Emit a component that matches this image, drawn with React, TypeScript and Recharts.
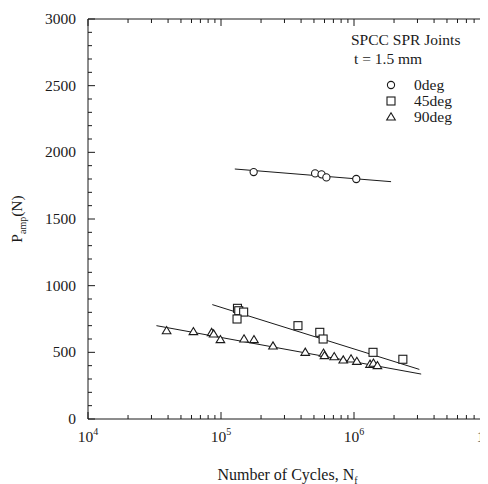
import React from 'react';
import { Scatter, ScatterChart, XAxis, YAxis } from 'recharts';

// S-N data (cycles, amplitude load in N)
const deg0 = [
  { n: 1.76e5, p: 1852 },
  { n: 5.1e5, p: 1842 },
  { n: 5.7e5, p: 1835 },
  { n: 6.2e5, p: 1812 },
  { n: 1.04e6, p: 1800 },
];
const deg45 = [
  { n: 1.33e5, p: 830 },
  { n: 1.36e5, p: 812 },
  { n: 1.48e5, p: 802 },
  { n: 1.32e5, p: 750 },
  { n: 3.79e5, p: 700 },
  { n: 5.53e5, p: 650 },
  { n: 5.86e5, p: 600 },
  { n: 1.39e6, p: 500 },
  { n: 2.33e6, p: 448 },
];
const deg90 = [
  { n: 3.9e4, p: 662 },
  { n: 6.2e4, p: 655 },
  { n: 8.5e4, p: 648 },
  { n: 8.8e4, p: 637 },
  { n: 9.9e4, p: 595 },
  { n: 1.49e5, p: 600 },
  { n: 1.77e5, p: 595 },
  { n: 2.46e5, p: 547 },
  { n: 4.3e5, p: 500 },
  { n: 5.9e5, p: 493 },
  { n: 6.0e5, p: 475 },
  { n: 7.1e5, p: 467 },
  { n: 8.3e5, p: 442 },
  { n: 9.5e5, p: 450 },
  { n: 1.05e6, p: 432 },
  { n: 1.32e6, p: 410 },
  { n: 1.4e6, p: 418 },
  { n: 1.5e6, p: 400 },
];

// fitted lines (end points)
const fit0 = [{ n: 1.27e5, p: 1875 }, { n: 1.9e6, p: 1780 }];
const fit45 = [{ n: 8.6e4, p: 858 }, { n: 3.1e6, p: 372 }];
const fit90 = [{ n: 3.27e4, p: 700 }, { n: 3.2e6, p: 337 }];

const decades = [1e4, 1e5, 1e6, 1e7];
const yMajor = [0, 500, 1000, 1500, 2000, 2500, 3000];
const legendTitle = ['SPCC SPR Joints', 't = 1.5 mm'];
const seriesNames = ['0deg', '45deg', '90deg'];

const xTicks = decades.flatMap((d, i) =>
  i < decades.length - 1 ? [d, 2 * d, 3 * d, 4 * d, 5 * d, 6 * d, 7 * d, 8 * d, 9 * d] : [d]
);
const yTicks = Array.from({ length: 31 }, (_, i) => i * 100);

const FONT = '"Liberation Serif", "Times New Roman", serif';
const INK = '#1a1a1a';

const Circle = ({ cx, cy }: any) => (
  <circle cx={cx} cy={cy} r={3.6} fill="#fff" stroke={INK} strokeWidth={1.1} />
);
const Square = ({ cx, cy }: any) => (
  <rect x={cx - 4} y={cy - 4} width={8} height={8} fill="#fff" stroke={INK} strokeWidth={1.1} />
);
const Triangle = ({ cx, cy }: any) => (
  <polygon
    points={`${cx},${cy - 4.2} ${cx + 4.3},${cy + 3} ${cx - 4.3},${cy + 3}`}
    fill="#fff"
    stroke={INK}
    strokeWidth={1.1}
  />
);
const NoDot = () => <g />;

function BottomTick({ x, y, payload }: any) {
  const major = decades.includes(payload.value);
  const exp = Math.round(Math.log10(payload.value));
  return (
    <g>
      <line x1={x} x2={x} y1={y} y2={y - (major ? 7 : 4)} stroke={INK} />
      {major && (
        <text x={x} y={y + 23} textAnchor="middle" fontSize={15.5} fontFamily={FONT} fill={INK}>
          10
          <tspan dy={-7} fontSize={10}>
            {exp}
          </tspan>
        </text>
      )}
    </g>
  );
}

function TopTick({ x, y, payload }: any) {
  const major = decades.includes(payload.value);
  return <line x1={x} x2={x} y1={y} y2={y + (major ? 7 : 4)} stroke={INK} />;
}

function LeftTick({ x, y, payload }: any) {
  const major = yMajor.includes(payload.value);
  return (
    <g>
      <line x1={x} x2={x + (major ? 7 : 4)} y1={y} y2={y} stroke={INK} />
      {major && (
        <text x={x - 12} y={y + 5} textAnchor="end" fontSize={15.5} fontFamily={FONT} fill={INK}>
          {payload.value}
        </text>
      )}
    </g>
  );
}

function RightTick({ x, y, payload }: any) {
  const major = yMajor.includes(payload.value);
  return <line x1={x} x2={x - (major ? 7 : 4)} y1={y} y2={y} stroke={INK} />;
}

function XTitle({ viewBox }: any) {
  const cx = viewBox.x + viewBox.width / 2;
  return (
    <text x={cx} y={viewBox.y + 61} textAnchor="middle" fontSize={16} fontFamily={FONT} fill={INK}>
      Number of Cycles, N
      <tspan dy={4} fontSize={10}>f</tspan>
    </text>
  );
}

function YTitle({ viewBox }: any) {
  const cy = viewBox.y + viewBox.height / 2;
  return (
    <text
      x={14}
      y={cy}
      transform={`rotate(-90 14 ${cy})`}
      textAnchor="middle"
      fontSize={15.5}
      fontFamily={FONT}
      fill={INK}
    >
      P
      <tspan dy={4} fontSize={10}>amp</tspan>
      <tspan dy={-4}>(N)</tspan>
    </text>
  );
}

function LegendBox() {
  const shapes = [Circle, Square, Triangle];
  return (
    <g fontFamily={FONT} fill={INK}>
      <text x={343} y={37} fontSize={15.5}>{legendTitle[0]}</text>
      <text x={346} y={56} fontSize={15.5}>{legendTitle[1]}</text>
      {seriesNames.map((name, i) => {
        const Shape = shapes[i];
        const cy = 77 + i * 16;
        return (
          <g key={name}>
            <Shape cx={383} cy={cy} />
            <text x={406} y={cy + 5} fontSize={15.5}>{name}</text>
          </g>
        );
      })}
    </g>
  );
}

export default function App() {
  return (
    <ScatterChart width={482} height={476} margin={{ top: 10, right: 2, left: 0, bottom: 0 }}>
      <XAxis
        dataKey="n"
        type="number"
        scale="log"
        domain={[1e4, 1e7]}
        allowDataOverflow
        ticks={xTicks}
        interval={0}
        height={65}
        tickSize={0}
        tickMargin={0}
        tickLine={false}
        axisLine={{ stroke: INK }}
        tick={BottomTick}
        label={XTitle}
      />
      <XAxis
        xAxisId="top"
        orientation="top"
        dataKey="n"
        type="number"
        scale="log"
        domain={[1e4, 1e7]}
        allowDataOverflow
        ticks={xTicks}
        interval={0}
        height={1}
        tickSize={0}
        tickMargin={0}
        tickLine={false}
        axisLine={{ stroke: INK }}
        tick={TopTick}
        label={LegendBox}
      />
      <YAxis
        dataKey="p"
        type="number"
        domain={[0, 3000]}
        allowDataOverflow
        ticks={yTicks}
        interval={0}
        width={80}
        tickSize={0}
        tickMargin={0}
        tickLine={false}
        axisLine={{ stroke: INK }}
        tick={LeftTick}
        label={YTitle}
      />
      <YAxis
        yAxisId="right"
        orientation="right"
        dataKey="p"
        type="number"
        domain={[0, 3000]}
        allowDataOverflow
        ticks={yTicks}
        interval={0}
        width={1}
        tickSize={0}
        tickMargin={0}
        tickLine={false}
        axisLine={{ stroke: INK }}
        tick={RightTick}
      />
      <Scatter data={fit0} line={{ stroke: INK, strokeWidth: 1 }} shape={NoDot} isAnimationActive={false} />
      <Scatter data={fit45} line={{ stroke: INK, strokeWidth: 1 }} shape={NoDot} isAnimationActive={false} />
      <Scatter data={fit90} line={{ stroke: INK, strokeWidth: 1 }} shape={NoDot} isAnimationActive={false} />
      <Scatter name="0deg" data={deg0} shape={Circle} isAnimationActive={false} />
      <Scatter name="45deg" data={deg45} shape={Square} isAnimationActive={false} />
      <Scatter name="90deg" data={deg90} shape={Triangle} isAnimationActive={false} />
    </ScatterChart>
  );
}
